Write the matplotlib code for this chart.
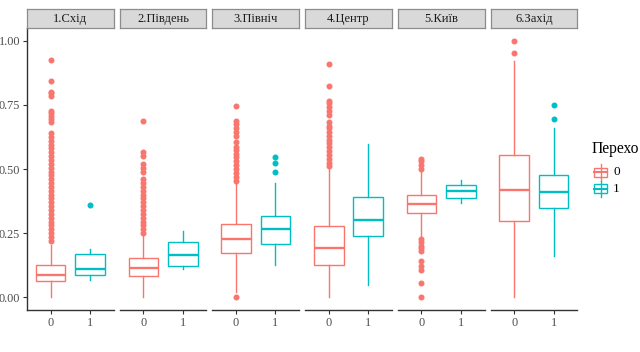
import matplotlib.pyplot as plt
from matplotlib.patches import Rectangle

plt.rcParams["font.family"] = ["Liberation Serif", "DejaVu Serif"]

regions = ["1.Схід", "2.Південь", "3.Північ", "4.Центр", "5.Київ", "6.Захід"]
groups = ["0", "1"]
colors = ["#F8766D", "#00BFC4"]
legend_title = "Перехо"  # cut off at the right edge in the reference

# summary stats: (whislo, q1, med, q3, whishi)
stats_0 = [
    (0.00, 0.062, 0.088, 0.124, 0.205),
    (0.00, 0.083, 0.115, 0.152, 0.243),
    (0.022, 0.174, 0.227, 0.287, 0.452),
    (0.00, 0.126, 0.191, 0.279, 0.504),
    (0.235, 0.327, 0.363, 0.397, 0.495),
    (0.00, 0.296, 0.418, 0.553, 0.923),
]
stats_1 = [
    (0.068, 0.087, 0.110, 0.168, 0.186),
    (0.110, 0.121, 0.163, 0.215, 0.257),
    (0.126, 0.207, 0.267, 0.316, 0.445),
    (0.048, 0.238, 0.302, 0.389, 0.599),
    (0.367, 0.387, 0.413, 0.436, 0.456),
    (0.159, 0.346, 0.409, 0.477, 0.660),
]
fliers_0 = [
    [0.22, 0.235, 0.25, 0.265, 0.28, 0.295, 0.31, 0.325, 0.34, 0.355, 0.37,
     0.385, 0.40, 0.415, 0.43, 0.445, 0.46, 0.475, 0.49, 0.505, 0.52, 0.535,
     0.55, 0.565, 0.58, 0.595, 0.61, 0.625, 0.64, 0.685, 0.695, 0.705, 0.72,
     0.728, 0.785, 0.795, 0.80, 0.845, 0.925],
    [0.25, 0.265, 0.28, 0.295, 0.31, 0.325, 0.34, 0.355, 0.37, 0.385, 0.40,
     0.415, 0.43, 0.445, 0.46, 0.49, 0.505, 0.52, 0.55, 0.565, 0.686],
    [0.0, 0.455, 0.47, 0.485, 0.50, 0.515, 0.53, 0.545, 0.56, 0.575, 0.585,
     0.604, 0.63, 0.645, 0.66, 0.675, 0.686, 0.745],
    [0.51, 0.525, 0.54, 0.555, 0.57, 0.585, 0.60, 0.615, 0.63, 0.645, 0.66,
     0.667, 0.682, 0.712, 0.727, 0.742, 0.757, 0.764, 0.825, 0.91],
    [0.0, 0.055, 0.105, 0.12, 0.143, 0.18, 0.19, 0.20, 0.215, 0.228, 0.50,
     0.515, 0.53, 0.54],
    [0.953, 0.999],
]
fliers_1 = [
    [0.36],
    [],
    [0.488, 0.525, 0.548],
    [],
    [],
    [0.696, 0.751],
]

W, H = 640, 352
fig = plt.figure(figsize=(W / 100, H / 100), dpi=100)

left, pw, gap = 27, 86.7, 6.0
top, bottom, strip_h = 28, 310, 19
axis_col = "#333333"
tick_col = "#4D4D4D"


def bstat(s, fl):
    lo, q1, med, q3, hi = s
    return dict(whislo=lo, q1=q1, med=med, q3=q3, whishi=hi, fliers=fl)


for i, name in enumerate(regions):
    x0 = left + i * (pw + gap)
    ax = fig.add_axes([x0 / W, 1 - bottom / H, pw / W, (bottom - top) / H])
    for j, (st, fl) in enumerate([(stats_0, fliers_0), (stats_1, fliers_1)]):
        c = colors[j]
        ax.bxp([bstat(st[i], fl[i])], positions=[j + 1], widths=0.75,
               showcaps=False, patch_artist=True,
               boxprops=dict(facecolor="white", edgecolor=c, linewidth=1.0),
               whiskerprops=dict(color=c, linewidth=1.0),
               medianprops=dict(color=c, linewidth=1.7),
               flierprops=dict(marker="o", markerfacecolor=c, markeredgecolor=c,
                               markersize=3.3, linestyle="none"))
    ax.set_xlim(0.4, 2.6)
    ax.set_ylim(-0.05, 1.05)
    ax.set_xticks([1, 2])
    ax.set_xticklabels(groups)
    for s in ["top", "right"]:
        ax.spines[s].set_visible(False)
    ax.spines["bottom"].set_color(axis_col)
    ax.spines["bottom"].set_linewidth(1.0)
    ax.tick_params(axis="x", length=3, width=0.8, color=axis_col,
                   labelcolor=tick_col, labelsize=8.8, pad=2)
    if i == 0:
        ax.set_yticks([0, 0.25, 0.5, 0.75, 1.0])
        ax.set_yticklabels(["0.00", "0.25", "0.50", "0.75", "1.00"])
        ax.spines["left"].set_color(axis_col)
        ax.spines["left"].set_linewidth(1.0)
        ax.tick_params(axis="y", length=3, width=0.8, color=axis_col,
                       labelcolor=tick_col, labelsize=8.8, pad=2)
    else:
        ax.spines["left"].set_visible(False)
        ax.set_yticks([])
    ax.patch.set_alpha(0)

    sax = fig.add_axes([x0 / W, 1 - top / H, pw / W, strip_h / H])
    sax.set_facecolor("#D9D9D9")
    sax.set_xticks([])
    sax.set_yticks([])
    for s in sax.spines.values():
        s.set_color("#8C8C8C")
        s.set_linewidth(0.9)
    sax.text(0.5, 0.45, name, ha="center", va="center", fontsize=9,
             color="#1A1A1A", transform=sax.transAxes)

# legend drawn in pixel coordinates
lax = fig.add_axes([0, 0, 1, 1])
lax.set_xlim(0, W)
lax.set_ylim(H, 0)
lax.axis("off")
lax.text(592, 149, legend_title, ha="left", va="center", fontsize=11.2,
         color="black")
for j, g in enumerate(groups):
    cy = 172 + j * 16.5
    c = colors[j]
    lax.plot([600.5, 600.5], [cy - 8, cy + 8], color=c, lw=1.0)
    lax.add_patch(Rectangle((594, cy - 4.5), 13, 9, facecolor="white",
                            edgecolor=c, lw=1.0))
    lax.plot([594, 607], [cy, cy], color=c, lw=1.5)
    lax.text(613, cy, g, ha="left", va="center", fontsize=9.5, color="black")

fig.savefig("out.png", dpi=100)
